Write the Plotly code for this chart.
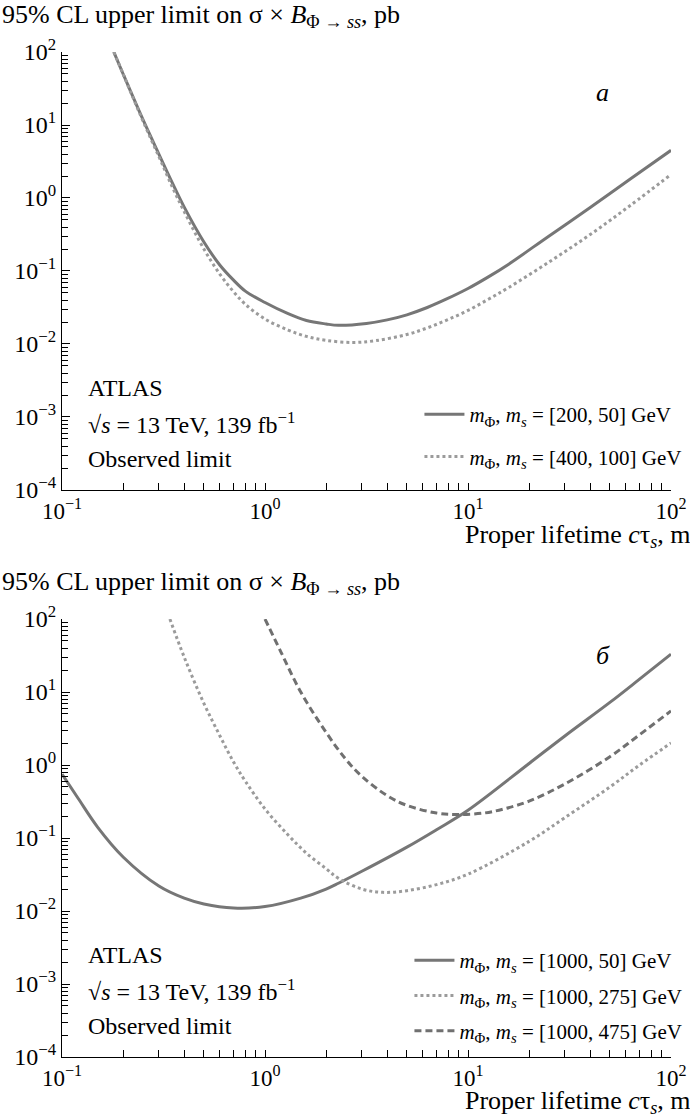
import plotly.graph_objects as go

# Panel (a): observed limits vs proper lifetime
ctau_a_200 = [0.18, 0.2, 0.25, 0.3, 0.35, 0.4, 0.5, 0.6, 0.7, 0.8, 1.0, 1.3, 1.6, 2.0, 2.3, 3.16, 4.0, 5.0, 6.3, 7.9, 10, 12.6, 15.8, 25, 40, 63, 100]
limit_a_200 = [100, 50, 12, 4.0, 1.6, 0.75, 0.25, 0.12, 0.075, 0.053, 0.037, 0.026, 0.021, 0.0188, 0.018, 0.0191, 0.0214, 0.0251, 0.0316, 0.0417, 0.0575, 0.083, 0.123, 0.30, 0.74, 1.82, 4.5]

ctau_a_400 = [0.18, 0.2, 0.25, 0.3, 0.35, 0.4, 0.5, 0.6, 0.7, 0.8, 1.0, 1.3, 1.6, 2.0, 2.7, 3.5, 5.0, 6.3, 7.9, 10, 12.6, 15.8, 25, 40, 63, 100]
limit_a_400 = [100, 50, 11.5, 3.7, 1.4, 0.65, 0.2, 0.09, 0.052, 0.035, 0.022, 0.0155, 0.0127, 0.0112, 0.0105, 0.0111, 0.0135, 0.0166, 0.0214, 0.0288, 0.041, 0.059, 0.132, 0.316, 0.79, 2.1]

# Panel (б)
ctau_b_50 = [0.1, 0.12, 0.15, 0.2, 0.3, 0.4, 0.5, 0.7, 1.0, 1.5, 2.0, 2.3, 3.0, 5.0, 7.0, 10, 20, 30, 50, 70, 100]
limit_b_50 = [0.75, 0.35, 0.14, 0.055, 0.022, 0.015, 0.0125, 0.011, 0.0115, 0.015, 0.02, 0.024, 0.035, 0.075, 0.13, 0.24, 1.05, 2.5, 7.2, 15, 33]

ctau_b_275 = [0.34, 0.4, 0.5, 0.6, 0.7, 0.8, 1.0, 1.3, 1.6, 2.0, 2.3, 3.0, 3.8, 5.0, 7.0, 10, 20, 30, 50, 70, 100]
limit_b_275 = [100, 30, 7, 2.5, 1.1, 0.6, 0.25, 0.11, 0.062, 0.038, 0.028, 0.02, 0.018, 0.019, 0.023, 0.032, 0.09, 0.19, 0.5, 1.0, 2.0]

ctau_b_475 = [1.0, 1.2, 1.5, 2.0, 2.5, 3.0, 4.0, 5.0, 7.0, 9.0, 12, 15, 20, 30, 50, 70, 100]
limit_b_475 = [100, 35, 10, 2.8, 1.2, 0.7, 0.38, 0.28, 0.22, 0.21, 0.22, 0.25, 0.32, 0.55, 1.3, 2.6, 5.5]

x_ticks = [0.1, 1, 10, 100]
x_tick_text = ["10<sup>−1</sup>", "10<sup>0</sup>", "10<sup>1</sup>", "10<sup>2</sup>"]
y_ticks = [1e-4, 1e-3, 1e-2, 1e-1, 1, 10, 100]
y_tick_text = ["10<sup>−4</sup>", "10<sup>−3</sup>", "10<sup>−2</sup>", "10<sup>−1</sup>",
               "10<sup>0</sup>", "10<sup>1</sup>", "10<sup>2</sup>"]

FONT = "Liberation Serif, Times New Roman, serif"
SOLID = "rgb(118,118,118)"
DOTTED = "rgb(155,155,155)"
DASHED = "rgb(112,112,112)"

x_minor = [m * 10 ** e for e in (-1, 0, 1) for m in range(2, 10)]
y_minor = [m * 10 ** e for e in (-4, -3, -2, -1, 0, 1) for m in range(2, 10)]


def label(ms_phi, ms_s):
    return f"<i>m</i><sub>Φ</sub>, <i>m<sub>s</sub></i> = [{ms_phi}, {ms_s}] GeV"


fig = go.Figure()

fig.add_trace(go.Scatter(x=ctau_a_200, y=limit_a_200, mode="lines", line=dict(color=SOLID, width=3, shape="spline"),
                         name=label(200, 50), legend="legend", legendgroup="a1", xaxis="x", yaxis="y"))
fig.add_trace(go.Scatter(x=ctau_a_400, y=limit_a_400, mode="lines", line=dict(color=DOTTED, width=3, dash="3px,3px", shape="spline"),
                         name=label(400, 100), legend="legend", legendgroup="a2", xaxis="x", yaxis="y"))

fig.add_trace(go.Scatter(x=ctau_b_50, y=limit_b_50, mode="lines", line=dict(color=SOLID, width=3, shape="spline"),
                         name=label(1000, 50), legend="legend2", legendgroup="b1", xaxis="x2", yaxis="y2"))
fig.add_trace(go.Scatter(x=ctau_b_275, y=limit_b_275, mode="lines", line=dict(color=DOTTED, width=3, dash="3px,3px", shape="spline"),
                         name=label(1000, 275), legend="legend2", legendgroup="b2", xaxis="x2", yaxis="y2"))
fig.add_trace(go.Scatter(x=ctau_b_475, y=limit_b_475, mode="lines", line=dict(color=DASHED, width=3, dash="7px,4px", shape="spline"),
                         name=label(1000, 475), legend="legend2", legendgroup="b3", xaxis="x2", yaxis="y2"))

x_common = dict(
    type="log", range=[-1, 2], showline=True, linecolor="black", linewidth=1.2,
    mirror=False, showgrid=False, zeroline=False,
    tickvals=x_ticks, ticktext=x_tick_text, ticks="inside", ticklen=7, tickcolor="black",
    tickfont=dict(family=FONT, size=23, color="black"),
    minor=dict(tickvals=x_minor, ticks="inside", ticklen=7, tickcolor="black", showgrid=False),
)
y_common = dict(
    type="log", range=[-4, 2], showline=True, linecolor="black", linewidth=1.2,
    mirror=False, showgrid=False, zeroline=False,
    tickvals=y_ticks, ticktext=y_tick_text, ticks="inside", ticklen=8, tickcolor="black",
    tickfont=dict(family=FONT, size=24, color="black"),
    minor=dict(tickvals=y_minor, ticks="inside", ticklen=6, tickcolor="black", showgrid=False),
)

LEG_FONT = dict(family=FONT, size=21, color="black")
fig.update_layout(
    width=690, height=1118,
    margin=dict(l=62, r=19, t=52, b=61, autoexpand=False),
    paper_bgcolor="white", plot_bgcolor="white",
    font=dict(family=FONT, color="black"),
    xaxis=dict(domain=[0, 1], anchor="y", **x_common),
    yaxis=dict(domain=[0.5642, 1], anchor="x", **y_common),
    xaxis2=dict(domain=[0, 1], anchor="y2", **x_common),
    yaxis2=dict(domain=[0, 0.4358], anchor="x2", **y_common),
    legend=dict(x=1.027, xanchor="right", y=0.6597, yanchor="top", bgcolor="rgba(0,0,0,0)",
                font=LEG_FONT, tracegroupgap=12, itemwidth=40),
    legend2=dict(x=1.027, xanchor="right", y=0.1164, yanchor="top", bgcolor="rgba(0,0,0,0)",
                 font=LEG_FONT, tracegroupgap=5, itemwidth=40),
    showlegend=True,
)

TXT = dict(family=FONT, size=24, color="black")
HEAD = dict(family=FONT, size=26, color="black")
annotations = []
for y_title, y_xlab, y_panel, panel, y_atlas in ((1.0358, 0.5184, 0.960, "a", 0.6657),
                                                  (0.4716, -0.0448, 0.400, "б", 0.1015)):
    annotations.append(dict(text="95% CL upper limit on σ × <i>B</i><sub>Φ → <i>ss</i></sub>, pb",
                            xref="paper", yref="paper", x=-0.102, y=y_title,
                            xanchor="left", yanchor="middle", showarrow=False, font=HEAD))
    annotations.append(dict(text="Proper lifetime <i>c</i>τ<sub><i>s</i></sub>, m",
                            xref="paper", yref="paper", x=1.036, y=y_xlab,
                            xanchor="right", yanchor="middle", showarrow=False, font=HEAD))
    annotations.append(dict(text=f"<i>{panel}</i>", xref="paper", yref="paper", x=0.888, y=y_panel,
                            xanchor="center", yanchor="middle", showarrow=False, font=HEAD))
    for i, line in enumerate(["ATLAS", "√<i>s</i> = 13 TeV, 139 fb<sup>−1</sup>", "Observed limit"]):
        annotations.append(dict(text=line, xref="paper", yref="paper", x=0.040, y=y_atlas - i * 0.0353,
                                xanchor="left", yanchor="middle", showarrow=False, font=TXT))

fig.update_layout(annotations=annotations)

fig.write_html("out.html")
